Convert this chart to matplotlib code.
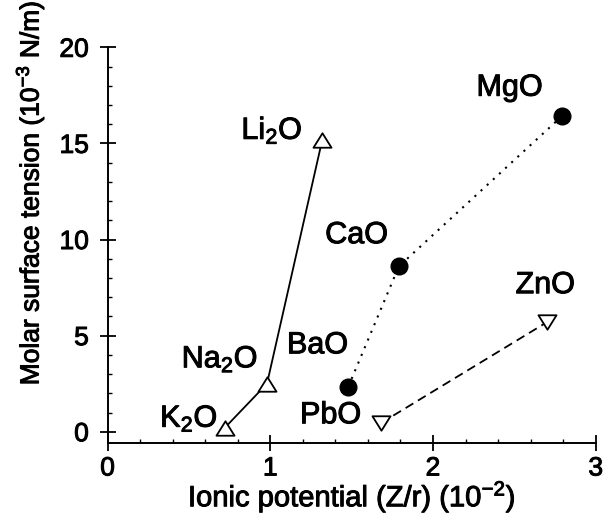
import numpy as np
import matplotlib
matplotlib.use('Agg')
import matplotlib.pyplot as plt
import matplotlib.patheffects as pe
from matplotlib.path import Path

plt.rcParams['font.family'] = ['Liberation Sans', 'DejaVu Sans']
plt.rcParams['mathtext.default'] = 'regular'

# Alkali oxides (open up-triangles, solid line)
alk_names = ['K$_2$O', 'Na$_2$O', 'Li$_2$O']
alk_x = [0.72, 0.98, 1.32]
alk_y = [0.2, 2.5, 15.2]

# Alkaline earth oxides (filled circles, dotted line)
ae_names = ['BaO', 'CaO', 'MgO']
ae_x = [1.48, 1.79, 2.79]
ae_y = [2.35, 8.6, 16.4]

# Other oxides (open down-triangles, dashed line)
oth_names = ['PbO', 'ZnO']
oth_x = [1.68, 2.70]
oth_y = [0.45, 5.7]

# label anchors (centre x, baseline y)
lab_names = alk_names + ae_names + oth_names
lab_x = [0.50, 0.69, 1.01, 1.29, 1.53, 2.47, 1.37, 2.69]
lab_y = [0.26, 3.35, 15.23, 4.08, 9.81, 17.48, 0.44, 7.21]

up_tri = Path([(0, 0.8), (-1, -0.8), (1, -0.8), (0, 0.8)],
              [Path.MOVETO, Path.LINETO, Path.LINETO, Path.CLOSEPOLY])
dn_tri = Path([(0, -0.8), (-1, 0.8), (1, 0.8), (0, -0.8)],
              [Path.MOVETO, Path.LINETO, Path.LINETO, Path.CLOSEPOLY])

# thicken glyphs a little, like the scanned original
heavy = [pe.withStroke(linewidth=0.7, foreground='black')]

fig = plt.figure(figsize=(6.13, 5.13), dpi=100)
ax = fig.add_axes([0.1754, 0.1359, 0.7964, 0.7719])

ax.plot(alk_x, alk_y, '-', color='black', lw=1.3, marker=up_tri, ms=13,
        mfc='white', mec='black', mew=1.3, zorder=3)
ax.plot(ae_x, ae_y, color='black', lw=1.5, ls=(0, (1, 3.0)), marker='o',
        ms=12, mfc='black', mec='black', zorder=3)
ax.plot(oth_x, oth_y, color='black', lw=1.3, ls=(0, (5, 3)), marker=dn_tri,
        ms=13, mfc='white', mec='black', mew=1.3, zorder=3)

for name, x, y in zip(lab_names, lab_x, lab_y):
    ax.text(x, y, name, ha='center', va='baseline', fontsize=22,
            path_effects=heavy)

ax.set_xlim(0, 3)
ax.set_ylim(-0.6, 20)
ax.set_xticks([0, 1, 2, 3])
ax.set_yticks([0, 5, 10, 15, 20])
ax.set_xticks(np.arange(0, 3.01, 0.2), minor=True)
ax.set_yticks(np.arange(0, 20.01, 1), minor=True)

for s in ['top', 'right']:
    ax.spines[s].set_visible(False)
for s in ['left', 'bottom']:
    ax.spines[s].set_linewidth(1.4)

ax.tick_params(which='major', direction='inout', length=11, width=1.3,
               labelsize=19)
ax.tick_params(axis='x', which='major', pad=4)
ax.tick_params(axis='y', which='major', pad=8)
ax.tick_params(which='minor', direction='in', length=3, width=1.0)

ax.set_xlabel('Ionic potential (Z/r) (10$^{-2}$)', fontsize=21, labelpad=-1,
              path_effects=heavy)
ax.set_ylabel('Molar surface tension (10$^{-3}$ N/m)', fontsize=19,
              path_effects=heavy)
ax.yaxis.set_label_coords(-0.126, 0.632)

for lab in ax.get_xticklabels() + ax.get_yticklabels():
    lab.set_path_effects(heavy)

fig.savefig('out.png', dpi=100)
